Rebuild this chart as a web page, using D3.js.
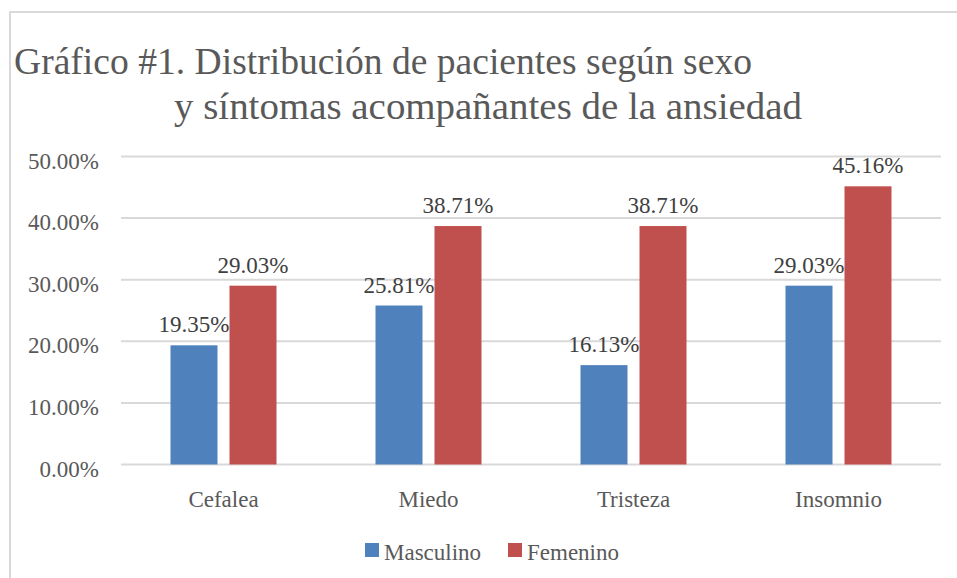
<!DOCTYPE html>
<html>
<head>
<meta charset="utf-8">
<script src="https://cdn.jsdelivr.net/npm/d3@7"></script>
<style>
  body { margin: 0; background: #fff; }
</style>
</head>
<body>
<div id="chart"></div>
<script>
// data
var categories = ["Cefalea", "Miedo", "Tristeza", "Insomnio"];
var seriesNames = ["Masculino", "Femenino"];
var masculino = [19.35, 25.81, 16.13, 29.03];
var femenino = [29.03, 38.71, 38.71, 45.16];
var yTicks = [0, 10, 20, 30, 40, 50];
var colors = ["#4F81BD", "#C0504D"];

var FONT = "Liberation Serif";
var TEXT_COLOR = "#595959";

var W = 957, H = 578;
var margin = { left: 121, right: 16, top: 156.5, bottom: 113.5 };
var plotW = W - margin.left - margin.right;
var plotH = H - margin.top - margin.bottom;

var svg = d3.select("#chart").append("svg")
  .attr("width", W)
  .attr("height", H)
  .attr("font-family", FONT);

// outer chart border (only top/left visible)
svg.append("rect")
  .attr("x", 10).attr("y", 12)
  .attr("width", W + 20).attr("height", H + 20)
  .attr("fill", "none").attr("stroke", "#d9d9d9").attr("stroke-width", 2);

// title, two lines
var titleLines = [
  { text: "Gráfico #1. Distribución de pacientes según sexo", x: 14, y: 74, len: 738 },
  { text: "y síntomas acompañantes de la ansiedad", x: 174, y: 119, len: 628 }
];
svg.selectAll("text.title")
  .data(titleLines)
  .enter().append("text")
  .attr("class", "title")
  .attr("font-family", FONT)
  .attr("font-size", 37.5)
  .attr("fill", TEXT_COLOR)
  .attr("x", function(d) { return d.x; })
  .attr("y", function(d) { return d.y; })
  .attr("textLength", function(d) { return d.len; })
  .attr("lengthAdjust", "spacingAndGlyphs")
  .text(function(d) { return d.text; });

var g = svg.append("g").attr("transform", "translate(" + margin.left + "," + margin.top + ")");

var groupW = 106;
var x0 = d3.scaleBand().domain(categories).range([0, plotW]);
var x1 = d3.scaleBand().domain(seriesNames).range([0, groupW]).paddingInner(0.2034);
var y = d3.scaleLinear().domain([0, 50]).range([plotH, 0]);

// gridlines
g.selectAll("line.grid")
  .data(yTicks)
  .enter().append("line")
  .attr("class", "grid")
  .attr("x1", 0).attr("x2", plotW)
  .attr("y1", function(d) { return y(d); })
  .attr("y2", function(d) { return y(d); })
  .attr("stroke", "#d9d9d9").attr("stroke-width", 2);

// y axis labels
var yAxis = d3.axisLeft(y).tickValues(yTicks)
  .tickFormat(function(d) { return d.toFixed(2) + "%"; })
  .tickSize(0).tickPadding(22);
var ya = g.append("g").call(yAxis)
  .attr("font-family", FONT).attr("font-size", 23);
ya.select(".domain").remove();
ya.selectAll("text").attr("fill", TEXT_COLOR).attr("dy", "0.5em");

// x axis labels
var xAxis = d3.axisBottom(x0).tickSize(0).tickPadding(42);
var xa = g.append("g").attr("transform", "translate(0," + plotH + ")").call(xAxis)
  .attr("font-family", FONT).attr("font-size", 23);
xa.select(".domain").remove();
xa.selectAll("text").attr("fill", TEXT_COLOR).attr("dy", "0em");

var rows = categories.map(function(c, i) {
  return { cat: c, vals: [
    { name: seriesNames[0], v: masculino[i] },
    { name: seriesNames[1], v: femenino[i] }
  ] };
});

var groups = g.selectAll("g.cat")
  .data(rows)
  .enter().append("g")
  .attr("class", "cat")
  .attr("transform", function(d) {
    return "translate(" + (x0(d.cat) + (x0.bandwidth() - groupW) / 2) + ",0)";
  });

groups.selectAll("rect")
  .data(function(d) { return d.vals; })
  .enter().append("rect")
  .attr("x", function(d) { return x1(d.name); })
  .attr("width", x1.bandwidth())
  .attr("y", function(d) { return y(d.v); })
  .attr("height", function(d) { return plotH - y(d.v); })
  .attr("fill", function(d, i) { return colors[i]; });

// data labels
groups.selectAll("text.lbl")
  .data(function(d) { return d.vals; })
  .enter().append("text")
  .attr("class", "lbl")
  .attr("x", function(d) { return x1(d.name) + x1.bandwidth() / 2; })
  .attr("y", function(d) { return y(d.v) - 13; })
  .attr("text-anchor", "middle")
  .attr("font-size", 23)
  .attr("fill", "#404040")
  .text(function(d) { return d.v.toFixed(2) + "%"; });

// legend
var legend = svg.append("g");
var legendX = [365, 508];
seriesNames.forEach(function(n, i) {
  legend.append("rect")
    .attr("x", legendX[i]).attr("y", 543)
    .attr("width", 14).attr("height", 14)
    .attr("fill", colors[i]);
  legend.append("text")
    .attr("x", legendX[i] + 19).attr("y", 560)
    .attr("font-size", 23)
    .attr("fill", TEXT_COLOR)
    .text(n);
});
</script>
</body>
</html>
